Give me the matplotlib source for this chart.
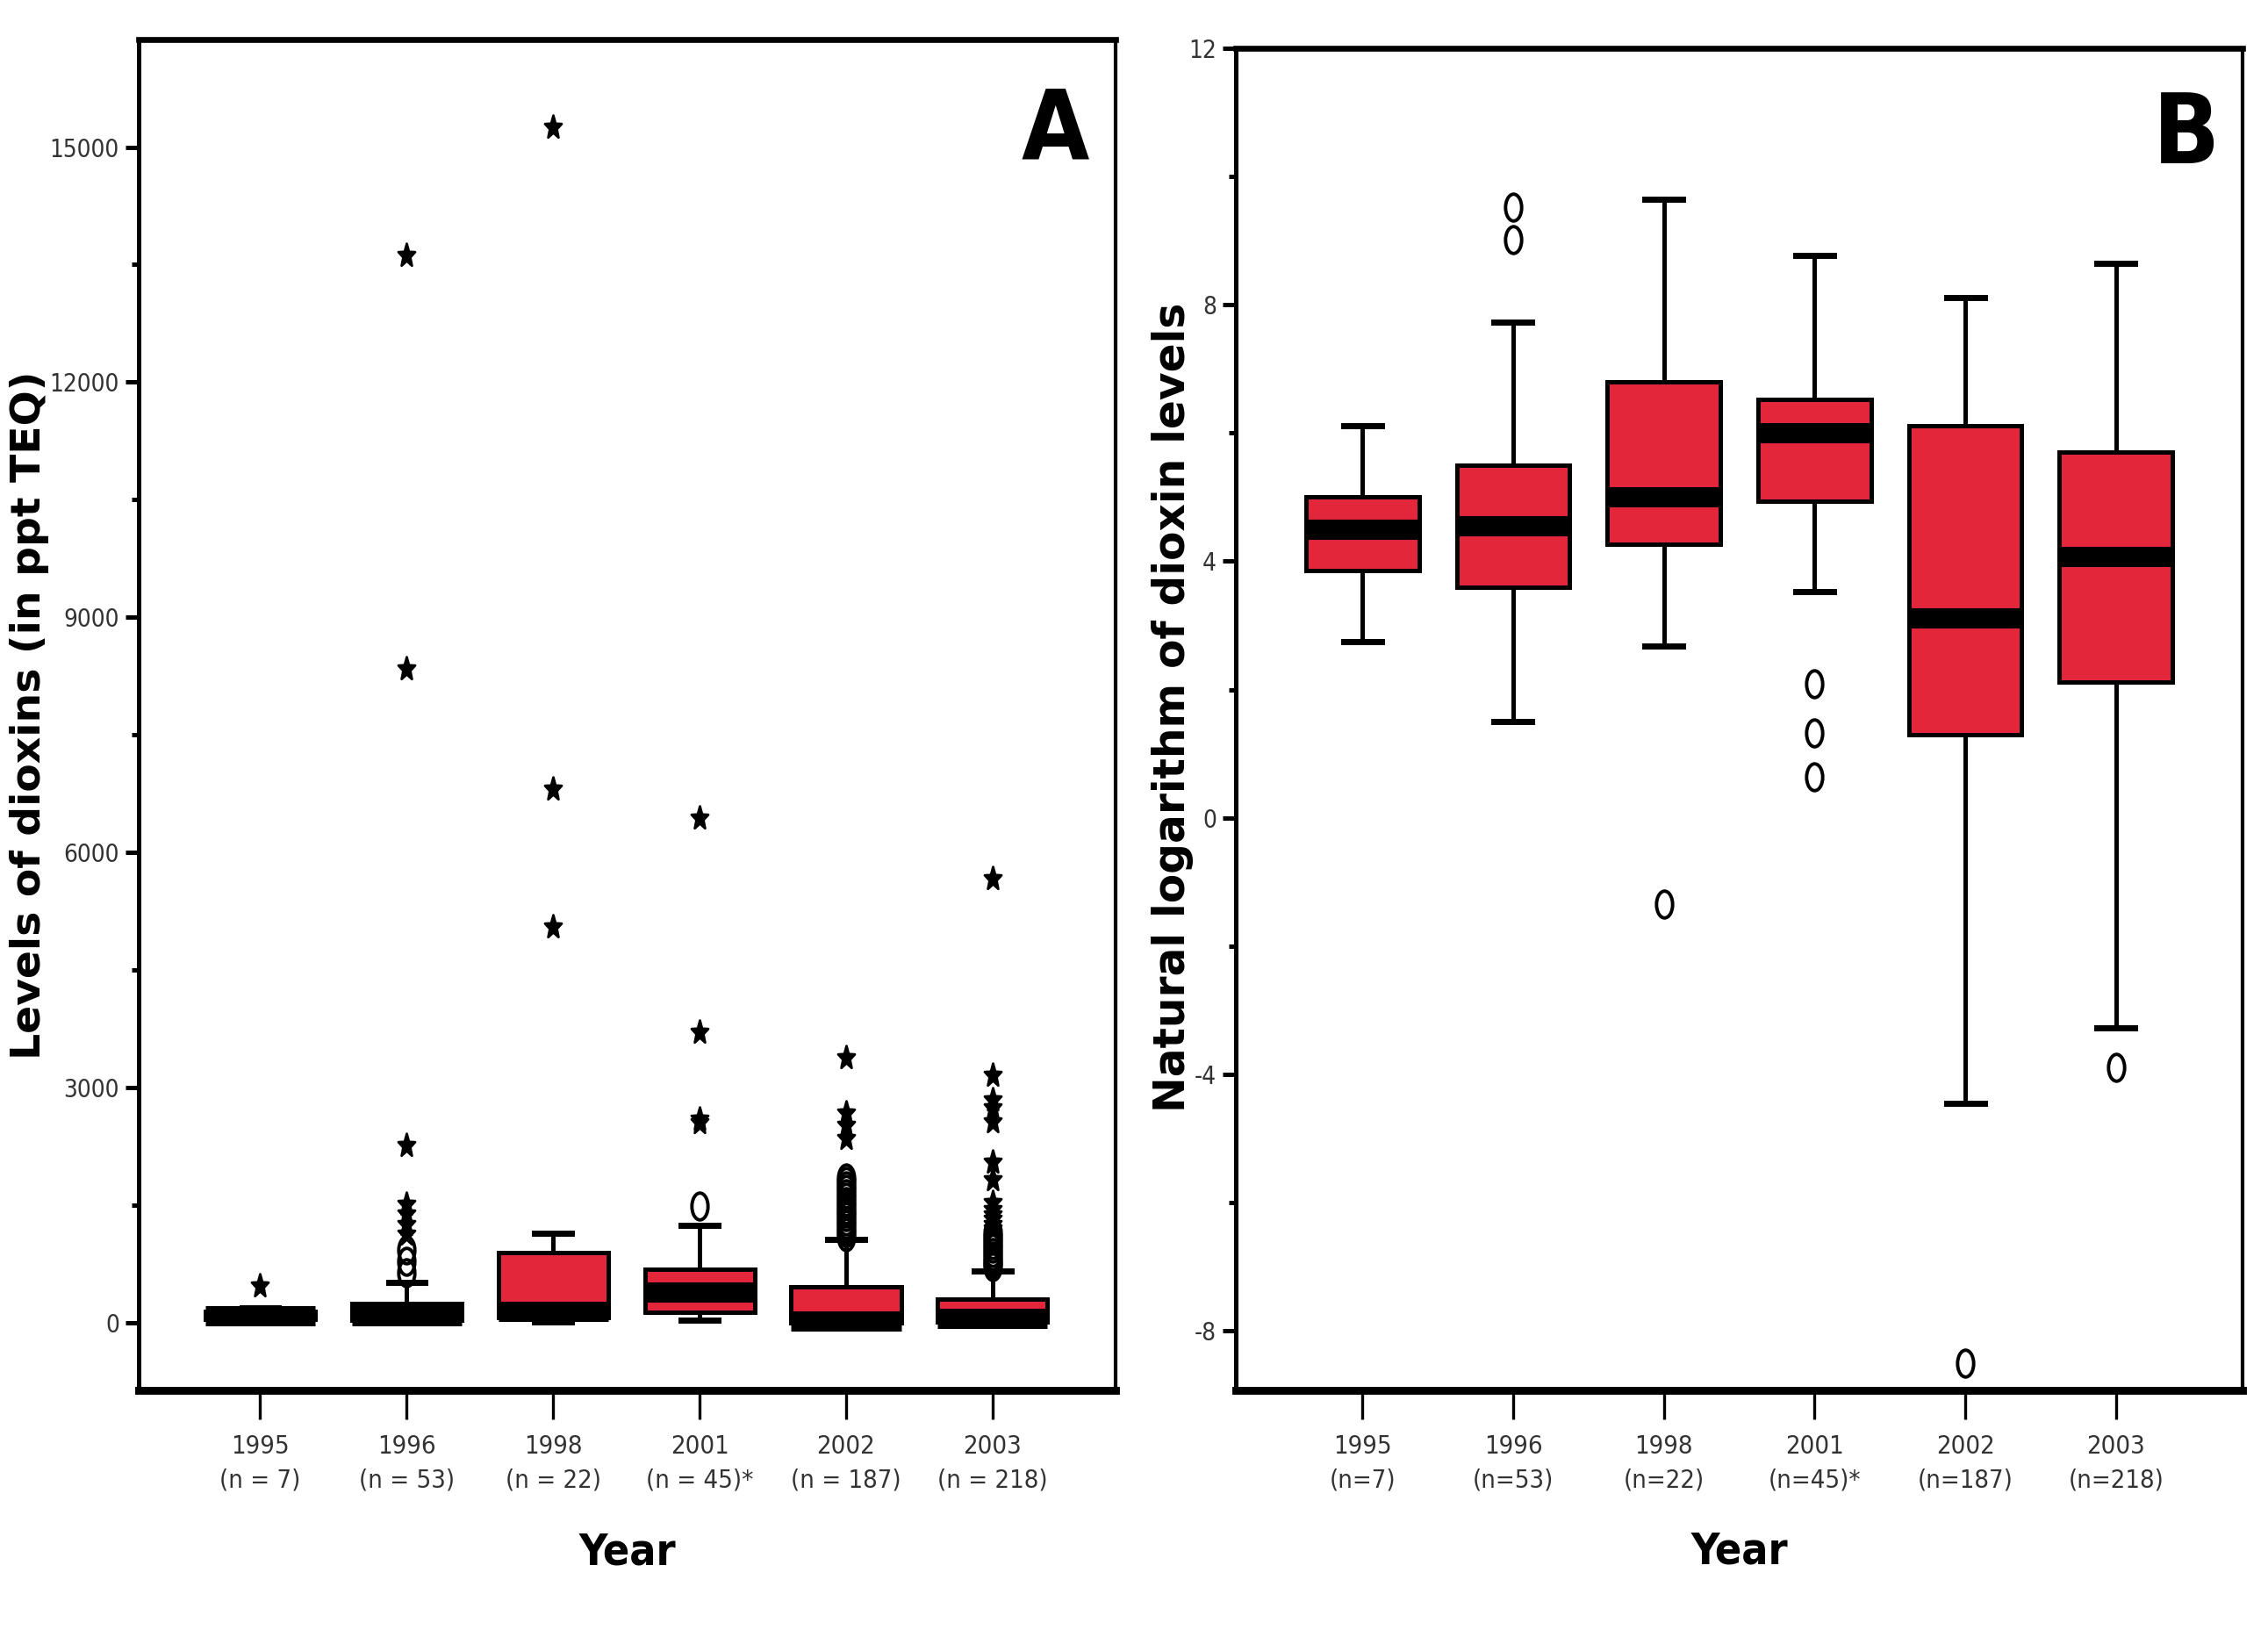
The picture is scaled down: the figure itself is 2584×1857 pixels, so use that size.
import matplotlib
matplotlib.use('Agg')
import matplotlib.pyplot as plt
import numpy as np
from matplotlib.path import Path
from matplotlib.ticker import MultipleLocator
from matplotlib import font_manager as fm

# ---------------- data ----------------
years = ['1995', '1996', '1998', '2001', '2002', '2003']
n_labels_a = ['(n = 7)', '(n = 53)', '(n = 22)', '(n = 45)*', '(n = 187)', '(n = 218)']
n_labels_b = ['(n=7)', '(n=53)', '(n=22)', '(n=45)*', '(n=187)', '(n=218)']

# Panel A: levels of dioxins (ppt TEQ)
a_q1 = [47, 36, 72, 140, 3.7, 8]
a_med = [92, 95, 150, 390, 24, 60]
a_q3 = [148, 250, 900, 680, 455, 300]
a_whislo = [16, 5, 15, 34, 0.01, 0.04]
a_whishi = [190, 515, 1141, 1243, 1066, 663]
a_circles = [
    [],
    [640, 785, 930],
    [],
    [1489],
    [1100, 1150, 1200, 1250, 1300, 1350, 1400, 1450, 1500, 1550, 1600, 1650, 1700, 1750, 1800, 1849],
    [720, 760, 800, 850, 900, 950, 1000, 1050, 1100, 1150],
]
a_stars = [
    [470],
    [1130, 1250, 1390, 1510, 2260, 8345, 13613],
    [5056, 6812, 15257],
    [2550, 2600, 3705, 6443],
    [2352, 2520, 2673, 3378],
    [1200, 1260, 1320, 1380, 1450, 1530, 1830, 2055, 2560, 2740, 2850, 3155, 5670],
]

# Panel B: natural log of dioxin levels
b_q1 = [3.86, 3.59, 4.27, 4.93, 1.30, 2.11]
b_med = [4.50, 4.55, 5.00, 6.00, 3.11, 4.07]
b_q3 = [5.00, 5.50, 6.80, 6.52, 6.11, 5.70]
b_whislo = [2.75, 1.50, 2.68, 3.52, -4.45, -3.27]
b_whishi = [6.11, 7.73, 9.64, 8.77, 8.11, 8.64]
b_circles = [
    [],
    [9.02, 9.52],
    [-1.34],
    [0.64, 1.32, 2.09],
    [-8.50],
    [-3.89],
]

# ---------------- fonts ----------------
plt.rcParams['axes.unicode_minus'] = False
names = {f.name for f in fm.fontManager.ttflist}
cond = [f for f in fm.fontManager.ttflist
        if ('Narrow' in f.name or 'Condensed' in f.name
            or f.stretch in ('condensed', 'semi-condensed', 'extra-condensed',
                             'ultra-condensed'))]
if 'Liberation Sans Narrow' in names:
    NARROW = dict(family=['Liberation Sans Narrow', 'DejaVu Sans'])
    TS, XS, LS = 11, 19, 42
elif cond:
    NARROW = dict(family=[cond[0].name, 'DejaVu Sans'], stretch=cond[0].stretch)
    TS, XS, LS = 10, 18, 40
else:
    NARROW = dict(family=['Liberation Sans', 'DejaVu Sans'])
    TS, XS, LS = 9.5, 17, 38

# ---------------- style ----------------
RED = '#E3263A'
TICKCOL = '#333333'

circ = Path.unit_circle()
ellipse = Path(circ.vertices * np.array([0.6, 1.0]), circ.codes)
st = Path.unit_regular_star(5, 0.42)
star = Path(st.vertices * np.array([0.72, 1.0]), st.codes)

W, H = 2584, 1857
DPI = 200
fig = plt.figure(figsize=(W / DPI, H / DPI), dpi=DPI)

axA = fig.add_axes([158 / W, 1 - 1584 / H, 1113 / W, 1539 / H])
axB = fig.add_axes([1408 / W, 1 - 1584 / H, 1147 / W, 1529 / H])

positions = np.arange(1, len(years) + 1)


def draw(ax, q1, med, q3, wlo, whi, circles, stars=None):
    stats = []
    for i in range(len(years)):
        stats.append(dict(q1=q1[i], med=med[i], q3=q3[i], whislo=wlo[i],
                          whishi=whi[i], fliers=np.array(circles[i], dtype=float)))
    ax.bxp(stats, positions=positions, widths=0.75, capwidths=0.25,
           patch_artist=True, showfliers=True,
           boxprops=dict(facecolor=RED, edgecolor='black', linewidth=1.8),
           medianprops=dict(color='black', linewidth=8.3, solid_capstyle='butt'),
           whiskerprops=dict(color='black', linewidth=1.8),
           capprops=dict(color='black', linewidth=2.5),
           flierprops=dict(marker=ellipse, markerfacecolor='none',
                           markeredgecolor='black', markersize=11,
                           markeredgewidth=1.4, linestyle='none'))
    if stars is not None:
        for p, s in zip(positions, stars):
            if len(s):
                ax.plot(np.full(len(s), p), s, ls='none', marker=star,
                        color='black', markersize=10)


draw(axA, a_q1, a_med, a_q3, a_whislo, a_whishi, a_circles, a_stars)
draw(axB, b_q1, b_med, b_q3, b_whislo, b_whishi, b_circles)

axA.set_xlim(0.17, 6.84)
axA.set_ylim(-862, 16372)
axA.yaxis.set_major_locator(MultipleLocator(3000))
axA.yaxis.set_minor_locator(MultipleLocator(1500))

axB.set_xlim(0.16, 6.84)
axB.set_ylim(-8.93, 12)
axB.yaxis.set_major_locator(MultipleLocator(4))
axB.yaxis.set_minor_locator(MultipleLocator(2))

for ax, nl in ((axA, n_labels_a), (axB, n_labels_b)):
    ax.set_xticks(positions)
    ax.set_xticklabels([f'{y}\n{n}' for y, n in zip(years, nl)],
                       fontsize=TS + 0.5, color=TICKCOL, linespacing=1.5, **NARROW)
    for lab in ax.get_yticklabels():
        lab.set_fontproperties(fm.FontProperties(size=TS, **NARROW))
        lab.set_color(TICKCOL)
    ax.tick_params(axis='x', which='major', direction='out', length=12, width=1.2,
                   pad=6, color='black')
    ax.tick_params(axis='y', which='major', direction='out', length=5.5, width=1.8,
                   pad=2.5, color='black')
    ax.tick_params(axis='y', which='minor', direction='out', length=2.8, width=1.8,
                   color='black')
    ax.spines['left'].set_linewidth(1.8)
    ax.spines['right'].set_linewidth(1.5)
    ax.spines['top'].set_linewidth(2.4)
    ax.spines['bottom'].set_linewidth(3.2)
    ax.set_xlabel('Year', fontsize=XS, fontweight='bold', **NARROW)
    ax.xaxis.label.set_va('center')

axA.xaxis.set_label_coords(0.5, -0.1196)
axB.xaxis.set_label_coords(0.5, -0.1203)

axA.set_ylabel('Levels of dioxins (in ppt TEQ)', family='DejaVu Sans',
               fontsize=17, fontweight='bold')
axB.set_ylabel('Natural logarithm of dioxin levels', family='DejaVu Sans',
               fontsize=17.5, fontweight='bold')
axA.yaxis.label.set_va('center')
axB.yaxis.label.set_va('center')
axA.yaxis.set_label_coords(-0.112, 0.5)
axB.yaxis.set_label_coords(-0.063, 0.509)

axA.text(0.938, 0.931, 'A', transform=axA.transAxes, ha='center', va='center',
         fontsize=LS, fontweight='bold', **NARROW)
axB.text(0.944, 0.934, 'B', transform=axB.transAxes, ha='center', va='center',
         fontsize=LS, fontweight='bold', **NARROW)

fig.savefig('out.png', dpi=DPI)
